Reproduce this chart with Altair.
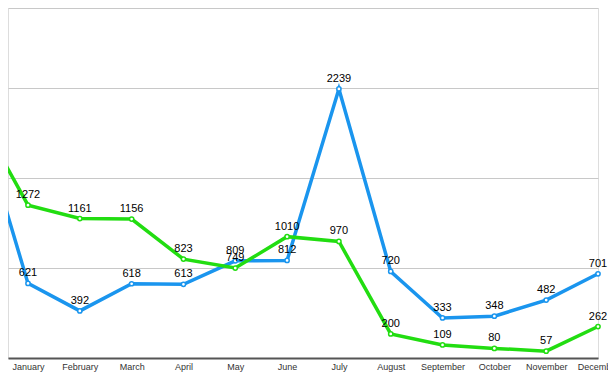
import altair as alt
import pandas as pd

months = ["January", "February", "March", "April", "May", "June", "July",
          "August", "September", "October", "November", "December"]
blue_vals = [621, 392, 618, 613, 809, 812, 2239, 720, 333, 348, 482, 701]
green_vals = [1272, 1161, 1156, 823, 749, 1010, 970, 200, 109, 80, 57, 262]
# previous (off-chart, left) points, estimated from the slopes entering the view
blue_prev = 2070
green_prev = 2050

rows = []
for name, prev, vals in [("blue", blue_prev, blue_vals), ("green", green_prev, green_vals)]:
    rows.append({"idx": 0, "value": prev, "series": name})
    for i, v in enumerate(vals):
        rows.append({"idx": i + 1, "value": v, "series": name})
df = pd.DataFrame(rows)

label_expr = "[" + ",".join("'%s'" % m for m in [""] + months) + "][datum.value]"

x = alt.X("idx:Q",
          scale=alt.Scale(domain=[0.614, 12], nice=False, zero=False),
          axis=alt.Axis(values=list(range(1, 13)), labelExpr=label_expr, title=None,
                        grid=False, ticks=False, labelFlush=False, labelOverlap=False,
                        domainColor="#555555", domainWidth=2, labelFontSize=9,
                        labelColor="#333333", labelFont="Liberation Sans", labelPadding=4))
y = alt.Y("value:Q",
          scale=alt.Scale(domain=[0, 2913], nice=False),
          axis=alt.Axis(values=[0, 750, 1500, 2250, 2913], labels=False, ticks=False,
                        domain=False, title=None, gridColor="#c8c8c8", gridWidth=1.2))
colscale = alt.Scale(domain=["blue", "green"], range=["#1a95ee", "#22dd11"])
color = alt.Color("series:N", scale=colscale, legend=None)

base = alt.Chart(df)
lines = base.mark_line(strokeWidth=3.5).encode(x=x, y=y, color=color, detail="series:N")
points = base.mark_point(filled=True, fill="white", size=18, strokeWidth=1.5, opacity=1).encode(
    x=x, y=y, stroke=alt.Stroke("series:N", scale=colscale, legend=None))
texts = base.mark_text(dy=-10, fontSize=11, font="Liberation Sans", color="black").encode(
    x=x, y=y, text="value:Q")

chart = alt.layer(lines, points, texts).properties(
    width=590, height=350,
    autosize=alt.AutoSizeParams(type="none"),
    padding={"left": 0, "top": 0, "right": 10, "bottom": 16},
).configure_view(stroke=None).configure(background="white")

chart.save("out.html", embed_options={"renderer": "svg", "actions": False})
